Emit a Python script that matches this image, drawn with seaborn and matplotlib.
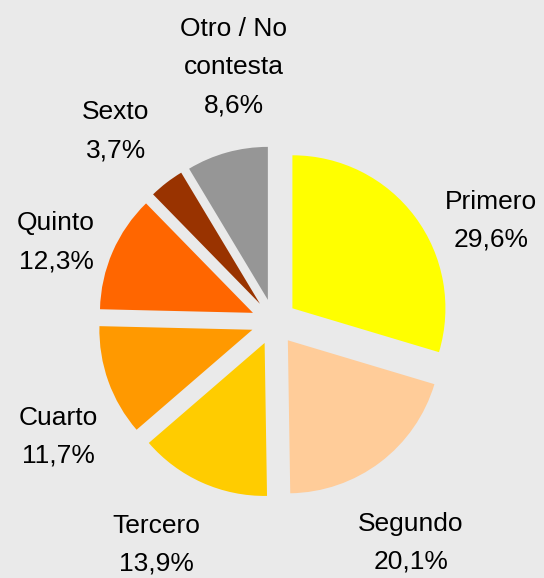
import matplotlib
matplotlib.use("Agg")
import matplotlib.pyplot as plt
import seaborn as sns

# data
categories = ["Primero", "Segundo", "Tercero", "Cuarto", "Quinto", "Sexto", "Otro / No\ncontesta"]
shares = [29.6, 20.1, 13.9, 11.7, 12.3, 3.7, 8.6]
slice_colors = ["#FFFF00", "#FFCC99", "#FFCC00", "#FF9900", "#FF6600", "#993300", "#969696"]

# label anchors: (x px, last-line baseline px) in the 544x578 picture
label_px = [(491, 247), (411, 569), (156, 571), (58, 463), (56, 268), (116, 157), (234, 112)]

BG = "#EAEAEA"
W, H = 544, 578
CX, CY, R = 274, 322, 153  # pie centre and radius in pixels

sns.set_style("white", rc={"axes.facecolor": BG, "figure.facecolor": BG})
plt.rcParams["font.family"] = ["Liberation Sans", "DejaVu Sans"]

fig = plt.figure(figsize=(W / 100, H / 100), dpi=100)
ax = fig.add_axes([0, 0, 1, 1])

palette = sns.color_palette(slice_colors)
ax.pie(
    shares,
    colors=palette,
    startangle=90,
    counterclock=False,
    explode=[0.15] * len(shares),
    radius=1,
    wedgeprops={"linewidth": 0},
)
ax.set_xlim(-CX / R, (W - CX) / R)
ax.set_ylim(-(H - CY) / R, CY / R)
ax.set_aspect("equal")
ax.axis("off")

for name, val, (px, py) in zip(categories, shares, label_px):
    txt = f"{name}\n{val:.1f}".replace(".", ",") + "%"
    ax.text(
        px / W, 1 - py / H, txt,
        transform=fig.transFigure,
        ha="center", va="baseline",
        fontsize=19, linespacing=1.73, color="black",
    )

fig.savefig("out.png", dpi=100, facecolor=BG)
